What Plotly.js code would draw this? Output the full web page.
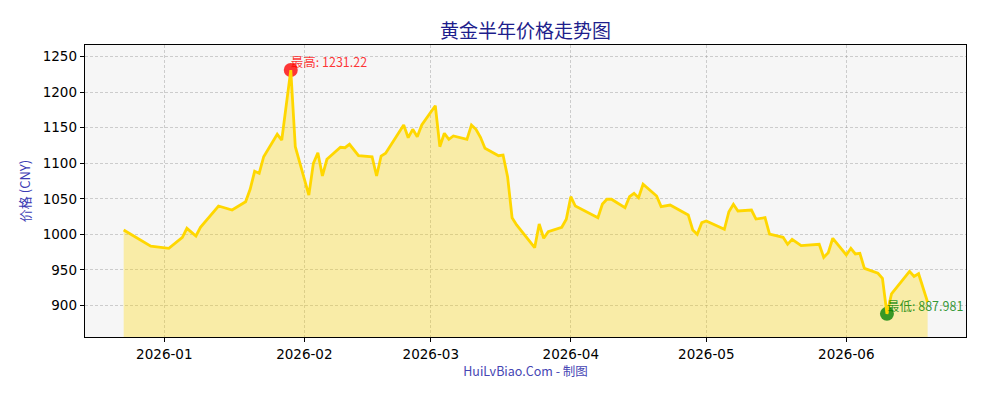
<!DOCTYPE html>
<html>
<head>
<meta charset="utf-8">
<script src="https://cdn.plot.ly/plotly-3.0.1.min.js"></script>
<style>html,body{margin:0;padding:0;background:#fff;}#chart{width:1000px;height:400px;}</style>
</head>
<body>
<div id="chart"></div>
<script>
// Data
const dates = [
  '2025-12-23','2025-12-29','2026-01-02','2026-01-05','2026-01-06','2026-01-08','2026-01-09','2026-01-13',
  '2026-01-16','2026-01-19','2026-01-20','2026-01-21','2026-01-22','2026-01-23','2026-01-26','2026-01-27',
  '2026-01-29','2026-01-30','2026-02-02','2026-02-03','2026-02-04','2026-02-05','2026-02-06','2026-02-09',
  '2026-02-10','2026-02-11','2026-02-13','2026-02-16','2026-02-17','2026-02-18','2026-02-19','2026-02-23',
  '2026-02-24','2026-02-25','2026-02-26','2026-02-27','2026-03-02','2026-03-03','2026-03-04','2026-03-05',
  '2026-03-06','2026-03-09','2026-03-10','2026-03-11','2026-03-12','2026-03-13','2026-03-16','2026-03-17',
  '2026-03-18','2026-03-19','2026-03-20','2026-03-24','2026-03-25','2026-03-26','2026-03-27','2026-03-30',
  '2026-03-31','2026-04-01','2026-04-02','2026-04-07','2026-04-08','2026-04-09','2026-04-10','2026-04-13',
  '2026-04-14','2026-04-15','2026-04-16','2026-04-17','2026-04-20','2026-04-21','2026-04-23','2026-04-27',
  '2026-04-28','2026-04-29','2026-04-30','2026-05-01','2026-05-05','2026-05-06','2026-05-07','2026-05-08',
  '2026-05-11','2026-05-12','2026-05-14','2026-05-15','2026-05-18','2026-05-19','2026-05-20','2026-05-22',
  '2026-05-26','2026-05-27','2026-05-28','2026-05-29','2026-06-01','2026-06-02','2026-06-03','2026-06-04',
  '2026-06-05','2026-06-08','2026-06-09','2026-06-10','2026-06-11','2026-06-15','2026-06-16','2026-06-17',
  '2026-06-19'
];
const prices = [
  1006.1, 983.4, 980.3, 995.8, 1008.4, 997.6, 1009.9, 1039.8,
  1034.2, 1045.9, 1063.3, 1088.7, 1085.9, 1109.2, 1140.8, 1132.7,
  1231.22, 1123.3, 1055.3, 1099.9, 1114.9, 1082.1, 1105.6, 1122.5,
  1121.9, 1126.7, 1110.6, 1109.2, 1082.1, 1110.2, 1114.0, 1153.9,
  1136.0, 1147.8, 1137.4, 1153.9, 1181.0, 1123.3, 1142.2, 1133.7,
  1138.4, 1133.7, 1153.9, 1147.8, 1136.5, 1121.1, 1110.6, 1111.6,
  1081.1, 1023.4, 1013.1, 981.1, 1014.5, 994.4, 1003.7, 1009.9,
  1021.1, 1052.9, 1039.8, 1023.4, 1042.7, 1049.3, 1049.3, 1037.4,
  1052.9, 1057.7, 1051.5, 1070.4, 1053.9, 1038.9, 1041.2, 1027.2,
  1006.1, 1000.0, 1016.3, 1018.7, 1007.0, 1031.8, 1042.2, 1032.8,
  1034.2, 1021.5, 1023.4, 1000.4, 995.8, 985.9, 993.0, 984.0,
  985.9, 967.6, 974.1, 994.4, 970.9, 980.3, 972.3, 973.3,
  952.1, 945.1, 938.1, 887.981, 916.0, 947.8, 940.7, 944.5,
  904.4
];
const chartTitle = '黄金半年价格走势图';
const yTitle = '价格 (CNY)';
const xTitle = 'HuiLvBiao.Com - 制图';
const maxLabel = '最高: ';
const minLabel = '最低: ';
const yTicks = [900, 950, 1000, 1050, 1100, 1150, 1200, 1250];

let iMax = 0, iMin = 0;
prices.forEach((v, i) => { if (v > prices[iMax]) iMax = i; if (v < prices[iMin]) iMin = i; });

const cjk = '"Noto Sans CJK SC", "Noto Sans", sans-serif';
const tickFont = {family: '"DejaVu Sans", sans-serif', size: 13.5, color: '#000'};

const traces = [
  {x: dates, y: prices, type: 'scatter', mode: 'lines', fill: 'tozeroy',
   fillcolor: 'rgba(255,215,0,0.32)', line: {width: 0, color: 'rgba(0,0,0,0)'}, hoverinfo: 'skip'},
  {x: [dates[iMax]], y: [prices[iMax]], type: 'scatter', mode: 'markers',
   marker: {size: 14, color: 'rgba(255,0,0,0.78)', line: {width: 0}}, hoverinfo: 'skip'},
  {x: [dates[iMin]], y: [prices[iMin]], type: 'scatter', mode: 'markers',
   marker: {size: 14, color: 'rgba(0,128,0,0.78)', line: {width: 0}}, hoverinfo: 'skip'},
  {x: dates, y: prices, type: 'scatter', mode: 'lines',
   line: {color: '#FFD700', width: 2.8}, hoverinfo: 'skip'},
  {x: [dates[iMax]], y: [prices[iMax]], type: 'scatter', mode: 'text',
   text: [maxLabel + prices[iMax]], textposition: 'top right', cliponaxis: true,
   textfont: {family: cjk, size: 12.5, color: 'rgba(255,0,0,0.8)'}, hoverinfo: 'skip'},
  {x: [dates[iMin]], y: [prices[iMin]], type: 'scatter', mode: 'text',
   text: [minLabel + prices[iMin]], textposition: 'top right', cliponaxis: true,
   textfont: {family: cjk, size: 12.5, color: 'rgba(0,128,0,0.8)'}, hoverinfo: 'skip'}
];

const layout = {
  width: 1000, height: 400,
  margin: {l: 85, r: 34, t: 45, b: 63},
  paper_bgcolor: '#ffffff',
  plot_bgcolor: '#f6f6f6',
  showlegend: false,
  title: {text: chartTitle, font: {family: cjk, size: 19, color: '#1e1e8c'},
          x: 0.5, xref: 'paper', xanchor: 'center', y: 1 - 31/400, yref: 'container', yanchor: 'middle'},
  xaxis: {
    type: 'date', range: ['2025-12-14 10:30', '2026-06-27 12:00'],
    tick0: '2026-01-01', dtick: 'M1', tickformat: '%Y-%m',
    ticks: 'outside', ticklen: 4, tickcolor: '#000', tickwidth: 1,
    tickfont: tickFont,
    showline: true, mirror: true, linecolor: '#000', linewidth: 1.3,
    showgrid: true, gridcolor: 'rgba(150,150,150,0.55)', griddash: '3px,2px', gridwidth: 0.8,
    zeroline: false, automargin: false,
    title: {text: xTitle, font: {family: cjk, size: 12.5, color: '#4646b4'}, standoff: 4}
  },
  yaxis: {
    range: [855.4, 1266.5], tickvals: yTicks, ticktext: yTicks.map(String),
    ticks: 'outside', ticklen: 4, tickcolor: '#000', tickwidth: 1,
    tickfont: tickFont,
    showline: true, mirror: true, linecolor: '#000', linewidth: 1.3,
    showgrid: true, gridcolor: 'rgba(150,150,150,0.55)', griddash: '3px,2px', gridwidth: 0.8,
    zeroline: false, automargin: false,
    title: {text: yTitle, font: {family: cjk, size: 13, color: '#3c3cb4'}, standoff: 9}
  }
};

Plotly.newPlot('chart', traces, layout, {staticPlot: true, displayModeBar: false});
</script>
</body>
</html>
